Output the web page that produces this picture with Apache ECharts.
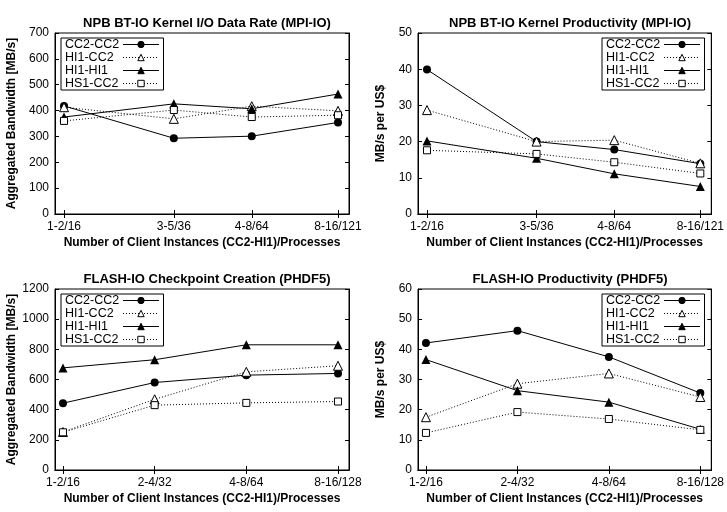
<!DOCTYPE html>
<html>
<head>
<meta charset="utf-8">
<script src="https://cdn.jsdelivr.net/npm/echarts@6/dist/echarts.min.js"></script>
<style>
  html, body { margin: 0; padding: 0; background: #fff; }
  #main { width: 727px; height: 512px; }
</style>
</head>
<body>
<div id="main"></div>
<script>
// x categories: client instances / processes (x is log scale of process count)
const btLabels = ['1-2/16', '3-5/36', '4-8/64', '8-16/121']
const btProcs = [16, 36, 64, 121]
const flashLabels = ['1-2/16', '2-4/32', '4-8/64', '8-16/128']
const flashProcs = [16, 32, 64, 128]

const seriesNames = ['CC2-CC2', 'HI1-CC2', 'HI1-HI1', 'HS1-CC2']

// values per series, in the order of seriesNames
const btRate = [
  [418, 293, 301, 354],
  [413, 368, 417, 399],
  [375, 426, 407, 464],
  [360, 402, 375, 382]
]
const btProductivity = [
  [39.9, 20.0, 17.8, 13.9],
  [28.7, 20.0, 20.4, 14.0],
  [20.2, 15.4, 11.1, 7.6],
  [17.6, 16.6, 14.3, 11.2]
]
const flashRate = [
  [443, 580, 629, 640],
  [252, 469, 651, 691],
  [677, 731, 830, 830],
  [250, 430, 445, 454]
]
const flashProductivity = [
  [42.1, 46.2, 37.5, 25.5],
  [17.5, 28.6, 32.0, 24.2],
  [36.6, 26.3, 22.5, 13.5],
  [12.3, 19.2, 16.9, 13.3]
]

const font = 'Liberation Sans, Arial, Helvetica, sans-serif'

// open symbols are drawn as white filled shapes with a thin border
const styles = [
  {symbol: 'circle', symbolSize: 8, fill: '#000', border: 0, dash: 'solid'},
  {symbol: 'triangle', symbolSize: 9, fill: '#fff', border: 1, dash: [1, 2]},
  {symbol: 'triangle', symbolSize: 9, fill: '#000', border: 0, dash: 'solid'},
  {symbol: 'rect', symbolSize: 7, fill: '#fff', border: 1, dash: [1, 2]}
]

const panels = [
  {
    title: 'NPB BT-IO Kernel I/O Data Rate (MPI-IO)', yName: 'Aggregated Bandwidth [MB/s]',
    left: 55, top: 33, yMax: 700, yInt: 100, xMin: 3.904, xMax: 7.036,
    procs: btProcs, labels: btLabels, values: btRate, nameGap: 37, legendLeft: 61
  },
  {
    title: 'NPB BT-IO Kernel Productivity (MPI-IO)', yName: 'MB/s per US$',
    left: 418, top: 33, yMax: 50, yInt: 10, xMin: 3.904, xMax: 7.036,
    procs: btProcs, labels: btLabels, values: btProductivity, nameGap: 31, legendLeft: 602
  },
  {
    title: 'FLASH-IO Checkpoint Creation (PHDF5)', yName: 'Aggregated Bandwidth [MB/s]',
    left: 55, top: 289, yMax: 1200, yInt: 200, xMin: 3.913, xMax: 7.12,
    procs: flashProcs, labels: flashLabels, values: flashRate, nameGap: 37, legendLeft: 61
  },
  {
    title: 'FLASH-IO Productivity (PHDF5)', yName: 'MB/s per US$',
    left: 418, top: 289, yMax: 60, yInt: 10, xMin: 3.913, xMax: 7.12,
    procs: flashProcs, labels: flashLabels, values: flashProductivity, nameGap: 31, legendLeft: 602
  }
]

const W = 294
const H = 181

let option = {
  animation: false,
  backgroundColor: '#fff',
  textStyle: {fontFamily: font, color: '#000'},
  title: [],
  legend: [],
  grid: [],
  xAxis: [],
  yAxis: [],
  series: []
}

panels.forEach(function (p, k) {
  const ticks = p.procs.map(function (v) { return Math.log2(v) })
  option.title.push({
    text: p.title,
    left: p.left + W / 2,
    top: p.top - 21,
    textAlign: 'center',
    textStyle: {fontFamily: font, fontSize: 13, fontWeight: 'bold', color: '#000'}
  })
  option.grid.push({
    left: p.left, top: p.top, width: W, height: H,
    show: true, borderColor: '#000', borderWidth: 1, backgroundColor: 'transparent'
  })
  // bottom x axis with labels
  option.xAxis.push({
    type: 'value', gridIndex: k, position: 'bottom',
    min: p.xMin, max: p.xMax,
    name: 'Number of Client Instances (CC2-HI1)/Processes',
    nameLocation: 'middle', nameGap: 23,
    nameTextStyle: {fontFamily: font, fontSize: 12, fontWeight: 'bold', color: '#000'},
    axisLine: {show: true, lineStyle: {color: '#000', width: 1}},
    axisTick: {show: true, inside: true, length: 4, customValues: ticks, lineStyle: {color: '#000'}},
    axisLabel: {
      show: true, customValues: ticks, margin: 7,
      fontFamily: font, fontSize: 12, color: '#000',
      formatter: function (v) {
        for (let i = 0; i < ticks.length; i++) {
          if (Math.abs(ticks[i] - v) < 1e-6) return p.labels[i]
        }
        return ''
      }
    },
    splitLine: {show: false}
  })
  // top mirror axis
  option.xAxis.push({
    type: 'value', gridIndex: k, position: 'top',
    min: p.xMin, max: p.xMax,
    axisLine: {show: true, lineStyle: {color: '#000', width: 1}},
    axisTick: {show: true, inside: true, length: 4, customValues: ticks, lineStyle: {color: '#000'}},
    axisLabel: {show: false},
    splitLine: {show: false}
  })
  option.yAxis.push({
    type: 'value', gridIndex: k, position: 'left',
    min: 0, max: p.yMax, interval: p.yInt,
    name: p.yName, nameLocation: 'middle', nameGap: p.nameGap,
    nameTextStyle: {fontFamily: font, fontSize: 12, fontWeight: 'bold', color: '#000'},
    axisLine: {show: true, lineStyle: {color: '#000', width: 1}},
    axisTick: {show: true, inside: true, length: 4, lineStyle: {color: '#000'}},
    axisLabel: {
      margin: 6, fontFamily: font, fontSize: 12, color: '#000',
      formatter: function (v) { return String(v) }
    },
    splitLine: {show: false}
  })
  option.yAxis.push({
    type: 'value', gridIndex: k, position: 'right',
    min: 0, max: p.yMax, interval: p.yInt,
    axisLine: {show: true, lineStyle: {color: '#000', width: 1}},
    axisTick: {show: true, inside: true, length: 4, lineStyle: {color: '#000'}},
    axisLabel: {show: false},
    splitLine: {show: false}
  })
  option.legend.push({
    orient: 'vertical',
    left: p.legendLeft, top: p.top + 5,
    align: 'right',
    data: seriesNames,
    itemWidth: 36, itemHeight: 8, itemGap: 0,
    padding: [0, 4, 0, 4],
    borderColor: '#000', borderWidth: 1,
    backgroundColor: '#fff',
    inactiveColor: '#000',
    selectedMode: false,
    lineStyle: {width: 1},
    itemStyle: {borderWidth: 1},
    formatter: '{a|{name}}',
    textStyle: {
      fontFamily: font, fontSize: 12.5, color: '#000',
      rich: {a: {width: 53, align: 'left', lineHeight: 12, fontSize: 12.5, fontFamily: font}}
    }
  })
  seriesNames.forEach(function (name, s) {
    const st = styles[s]
    let data = []
    for (let i = 0; i < p.procs.length; i++) {
      data.push([Math.log2(p.procs[i]), p.values[s][i]])
    }
    option.series.push({
      name: name,
      type: 'line',
      xAxisIndex: 2 * k,
      yAxisIndex: 2 * k,
      data: data,
      symbol: st.symbol,
      symbolSize: st.symbolSize,
      showAllSymbol: true,
      lineStyle: {color: '#000', width: 1, type: st.dash},
      itemStyle: {color: st.fill, borderColor: '#000', borderWidth: st.border},
      emphasis: {disabled: true}
    })
  })
})

const myChart = echarts.init(document.getElementById('main'))
myChart.setOption(option)
</script>
</body>
</html>
